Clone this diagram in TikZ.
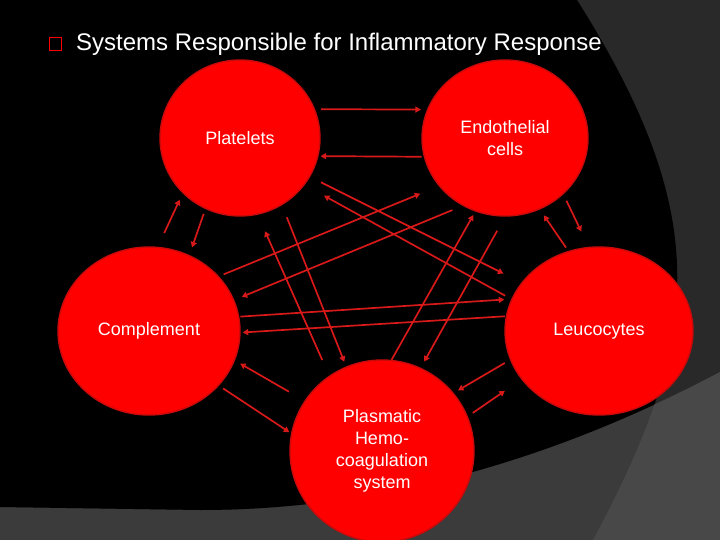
\documentclass[tikz,border=0pt]{standalone}
\usepackage{fontspec}
\setmainfont{Liberation Sans}
\usetikzlibrary{shapes.geometric, arrows.meta}
\definecolor{blobred}{RGB}{255,0,0}
\definecolor{rimred}{RGB}{200,10,10}
\definecolor{linkred}{RGB}{215,25,25}
\definecolor{darkband}{RGB}{41,41,41}
\definecolor{midband}{RGB}{59,59,59}
\definecolor{lightband}{RGB}{72,72,72}
\def\rightarc{(577,0) .. controls (716,220) and (700,340) .. (593,540)}
\def\lowerarc{(0,507) -- (200,510) .. controls (373,510) and (546,464) .. (720,372)}
\def\upperpart{(0,0) -- (720,0) -- (720,372) .. controls (546,464) and (373,510) .. (200,510) -- (0,507) -- cycle}

\begin{document}
\begin{tikzpicture}[x=1pt, y=-1pt,
	blob/.style={ellipse, draw=rimred, line width=1.4pt, fill=blobred, inner sep=0pt,
		text=white, align=center, font=\fontsize{18}{22}\selectfont},
	link/.style={draw=linkred, line width=1.7pt, -{Triangle[length=5.5pt, width=6pt]}}]
	\clip (0,0) rectangle (720,540);

	% background bands
	\fill[midband] (0,0) rectangle (720,540);
	\fill[darkband] \upperpart;
	\begin{scope}
		\clip (0,0) -- \rightarc -- (0,540) -- cycle;
		\fill[black] \upperpart;
	\end{scope}
	\begin{scope}
		\clip \rightarc -- (720,540) -- (720,0) -- cycle;
		\fill[lightband] (0,540) -- \lowerarc -- (720,540) -- cycle;
	\end{scope}

	% title
	\node[draw=red, line width=1.2pt, minimum width=12pt, minimum height=13pt, inner sep=0pt] (bullet) at (55.5,44) {};
	\node[anchor=base west, inner sep=0pt, text=white, font=\fontsize{24}{28}\selectfont] (title) at (76,50.5) {Systems Responsible for Inflammatory Response};

	% the five systems
	\node[blob, minimum width=160pt, minimum height=156pt] (platelets) at (240,138) {Platelets};
	\node[blob, minimum width=166pt, minimum height=156pt] (endothelial) at (505,138) {Endothelial\\cells};
	\node[blob, minimum width=182pt, minimum height=168pt] (complement) at (149,331) {Complement};
	\node[blob, minimum width=188pt, minimum height=168pt] (leucocytes) at (599,331) {Leucocytes};
	\node[blob, minimum width=184pt, minimum height=182pt] (plasmatic) at (382,451) {Plasmatic\\Hemo-\\coagulation\\system};

	% neighbours
	\draw[link, shorten <=6pt, shorten >=6pt] (platelets.21) -- (endothelial.160);
	\draw[link, shorten <=2pt, shorten >=2pt] (endothelial.193) -- (platelets.347);
	\draw[link, shorten <=15pt, shorten >=7pt] (complement.84) -- (platelets.224);
	\draw[link, shorten <=5pt, shorten >=8pt] (platelets.244) -- (complement.62);
	\draw[link, shorten <=4pt, shorten >=7pt] (leucocytes.111) -- (endothelial.296);
	\draw[link, shorten <=7pt, shorten >=17pt] (endothelial.316) -- (leucocytes.97);
	\draw[link, shorten <=18pt, shorten >=6pt] (plasmatic.147) -- (complement.341);
	\draw[link, shorten <=5pt, shorten >=2pt] (complement.322) -- (plasmatic.169);
	\draw[link, shorten <=6pt, shorten >=5pt] (leucocytes.198) -- (plasmatic.39);
	\draw[link, shorten <=6pt, shorten >=20pt] (plasmatic.22) -- (leucocytes.212);

	% across the middle
	\draw[link, shorten <=1pt, shorten >=7pt] (complement.9) -- (leucocytes.160);
	\draw[link, shorten <=1pt, shorten >=2pt] (leucocytes.171) -- (complement.359);
	\draw[link, shorten <=12pt, shorten >=20pt] (platelets.331) -- (leucocytes.148);
	\draw[link, shorten <=7pt, shorten >=22pt] (leucocytes.160) -- (platelets.324);
	\draw[link, shorten <=5pt, shorten >=20pt] (complement.38) -- (endothelial.216);
	\draw[link, shorten <=11pt, shorten >=8pt] (endothelial.238) -- (complement.20);
	\draw[link, shorten <=17pt, shorten >=18pt] (plasmatic.125) -- (platelets.283);
	\draw[link, shorten <=13pt, shorten >=5pt] (platelets.302) -- (plasmatic.113);
	\draw[link, shorten >=4pt] (plasmatic.84) -- (endothelial.248);
	\draw[link, shorten <=16pt, shorten >=7pt] (endothelial.270) -- (plasmatic.65);
\end{tikzpicture}
\end{document}
